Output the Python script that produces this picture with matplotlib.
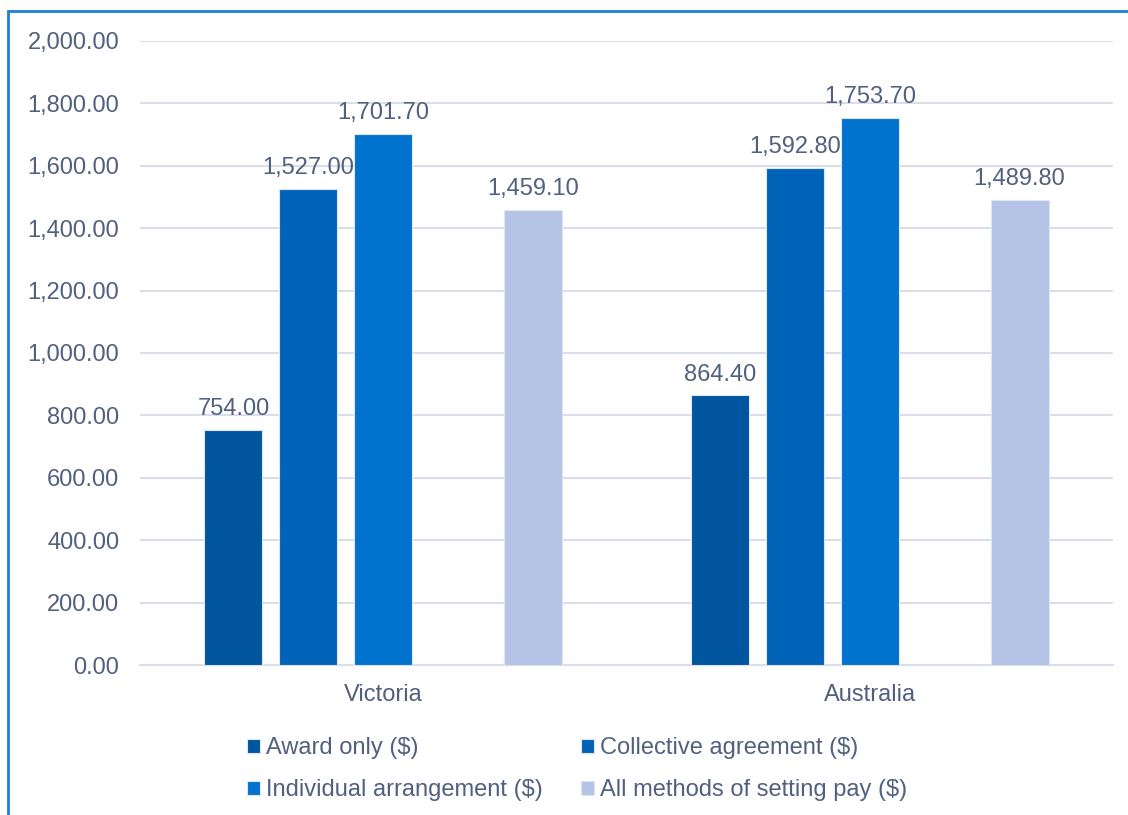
import numpy as np
import matplotlib.pyplot as plt
from matplotlib.patches import Rectangle

plt.rcParams['font.family'] = ['Liberation Sans', 'DejaVu Sans']

regions = ['Victoria', 'Australia']
series = ['Award only ($)', 'Collective agreement ($)',
          'Individual arrangement ($)', 'All methods of setting pay ($)']
award_only = [754.00, 864.40]
collective = [1527.00, 1592.80]
individual = [1701.70, 1753.70]
all_methods = [1459.10, 1489.80]

values = [award_only, collective, individual, all_methods]
colors = ['#00559F', '#0063B8', '#0072CE', '#B4C3E6']
# the fourth slot of each group stays empty
slots = [0, 1, 2, 4]

txtcol = '#50607E'
gridcol = '#D9DEEA'
fs = 17

fig = plt.figure(figsize=(11.28, 8.15), dpi=100, facecolor='white')
ax = fig.add_axes([140 / 1128, 1 - 665 / 815, 973 / 1128, 624 / 815])

slot_w = 0.154
bar_w = 0.119
x = np.arange(len(regions))
handles = []
for vals, col, s, name in zip(values, colors, slots, series):
    pos = x + (s - 2) * slot_w
    bars = ax.bar(pos, vals, width=bar_w, color=col, edgecolor='#DCE6F4',
                  linewidth=0.8, label=name, zorder=3)
    handles.append(bars)
    for b, v in zip(bars, vals):
        ax.annotate(f'{v:,.2f}', (b.get_x() + b.get_width() / 2, v),
                    xytext=(0, 7), textcoords='offset points',
                    ha='center', va='bottom', fontsize=fs, color=txtcol)

ax.set_xlim(-0.5, 1.5)
ax.set_ylim(0, 2000)
ax.set_yticks(np.arange(0, 2001, 200))
ax.yaxis.set_major_formatter(plt.FuncFormatter(lambda v, p: f'{v:,.2f}'))
ax.set_xticks(x)
ax.set_xticklabels(regions)
ax.grid(axis='y', color=gridcol, linewidth=1.5, zorder=0)
for side in ['top', 'right', 'left']:
    ax.spines[side].set_visible(False)
ax.spines['bottom'].set_color(gridcol)
ax.spines['bottom'].set_linewidth(1.5)
ax.tick_params(axis='both', length=0, colors=txtcol, labelsize=fs)
ax.tick_params(axis='y', pad=15)
ax.tick_params(axis='x', pad=14)

# legend reads across rows, so reorder for matplotlib's column fill
order = [0, 2, 1, 3]
leg = fig.legend([handles[i] for i in order], [series[i] for i in order],
                 loc='upper left', bbox_to_anchor=(226 / 1128, 1 - 716 / 815),
                 ncol=2, frameon=False, fontsize=fs, handlelength=0.55,
                 handleheight=0.55, handletextpad=0.25, columnspacing=1.6,
                 labelspacing=0.85)
for t in leg.get_texts():
    t.set_color(txtcol)

# outer border of the chart area
fig.patches.append(Rectangle((8 / 1128, -0.1), 1.2, 1 - 11 / 815 + 0.1,
                             transform=fig.transFigure, fill=False,
                             edgecolor='#1F7FD6', linewidth=2))

plt.savefig('out.png', dpi=100, facecolor='white')
plt.close()
